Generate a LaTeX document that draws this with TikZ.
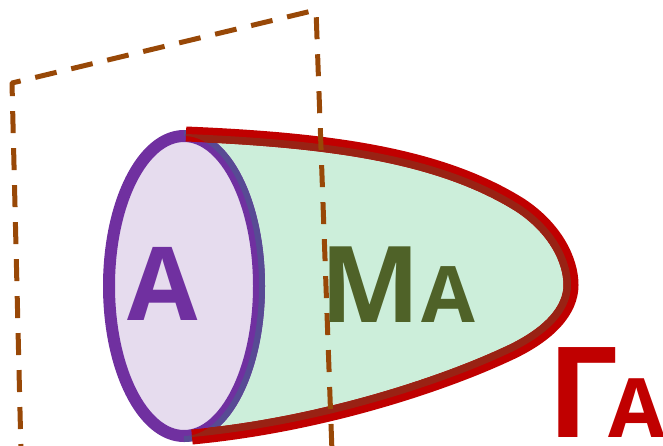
\documentclass[tikz,border=0pt]{standalone}
\usepackage{fontspec}
\newfontfamily\labelfont{Open Sans}
\definecolor{planebrown}{HTML}{984807}
\definecolor{discpurple}{HTML}{7030A0}
\definecolor{discfill}{HTML}{E6DCEE}
\definecolor{surfgreen}{HTML}{CCEEDA}
\definecolor{surftext}{HTML}{4F6228}
\definecolor{edgered}{HTML}{C00000}
\definecolor{edgedark}{HTML}{992214}
\definecolor{overlapblue}{HTML}{584A94}

\begin{document}
\begin{tikzpicture}[
  x=1pt, y=-1pt,
  plane/.style    = {draw=planebrown, line width=5pt, line join=round,
                     dash pattern=on 22pt off 15pt, dash phase=14pt},
  disc/.style     = {draw=discpurple, fill=discfill, line width=12pt},
  rim/.style      = {draw=overlapblue, line width=6pt},
  surface/.style  = {fill=surfgreen},
  boundary/.style = {line width=15pt, line cap=butt},
  gammacurve/.style = {insert path={(186,134)
                       .. controls (330,140) and (440,155) .. (520,205)
                       .. controls (555,228) and (571,260) .. (571,285)
                       .. controls (571,310) and (550,335) .. (505,355)
                       .. controls (440,385) and (320,425) .. (192,437)}},
  region/.style   = {gammacurve, insert path={-- (184,436)
                       arc[start angle=-90, end angle=90,
                           x radius=75pt, y radius=150pt] -- cycle}},
  lbl/.style      = {anchor=base west, inner sep=0pt, font=\labelfont\bfseries},
]
\useasboundingbox (0,0) rectangle (663,445);
\clip (0,0) rectangle (663,445);

% surface M_A
\path[surface, region];

% disc A
\draw[disc] (184,286) ellipse [x radius=75pt, y radius=150pt];
\draw[rim] (184,133) arc[start angle=90, end angle=-90,
                         x radius=78pt, y radius=153pt];

% boundary Gamma_A
\draw[boundary, draw=edgered, gammacurve];
\begin{scope}
  \clip[region];
  \draw[boundary, draw=edgedark, gammacurve];
\end{scope}

% plane
\draw[plane] (21,452) -- (12,83) -- (316,10) -- (332,452);

% labels
\node[lbl, text=discpurple] (lblA) at (127,320)
  {\fontsize{102}{102}\selectfont A};
\node[lbl, text=surftext] (lblM) at (320,322)
  {\fontsize{106}{106}\selectfont M\kern1pt\fontsize{78}{78}\selectfont A};
\node[lbl, text=edgered] (lblG) at (547,437)
  {\fontsize{126}{126}\selectfont Γ\kern-9pt\fontsize{82}{82}\selectfont A};
\end{tikzpicture}
\end{document}
